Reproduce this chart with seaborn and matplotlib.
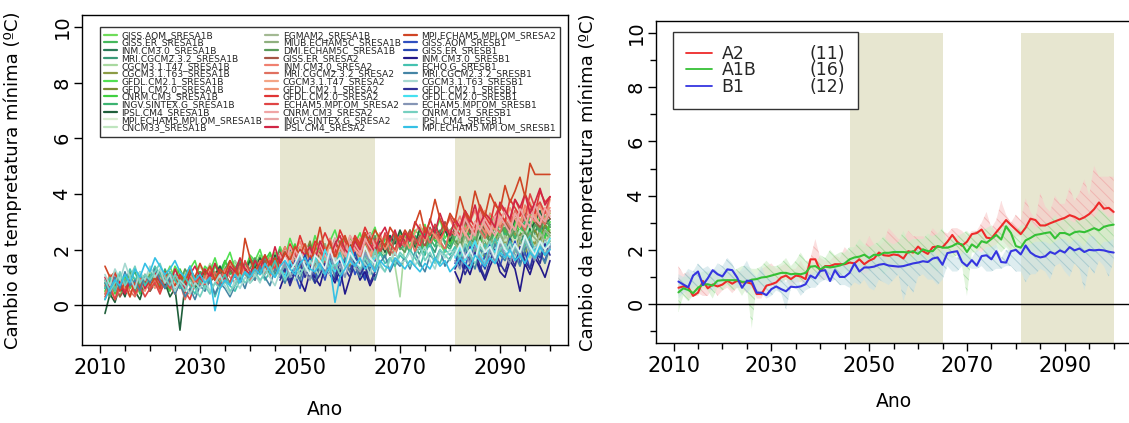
import numpy as np
import pandas as pd
import matplotlib
matplotlib.use("Agg")
import matplotlib.pyplot as plt
import seaborn as sns
from matplotlib.lines import Line2D
from matplotlib.ticker import MultipleLocator

# ---------------------------------------------------------------- data
years = list(range(2011, 2101))
slice1_years = list(range(2046, 2066))
slice2_years = list(range(2081, 2101))
shaded_periods = [(2046, 2065), (2081, 2100)]

# individual model series, values in tenths of degC
# ---- SRES A1B
a1b_giss_aom = [4, 9, 6, 3, 10, 7, 8, 12, 6, 9, 11, 7, 10, 14, 9, 8, 12, 10, 7, 11,
                13, 10, 15, 12, 9, 14, 16, 11, 13, 15, 14, 18, 12, 16, 19, 15, 13, 20, 17, 16,
                21, 17, 19, 23, 18, 16, 22, 20, 24, 19, 18, 22, 25, 20, 17, 23, 21, 19, 24, 22,
                25, 21, 23, 27, 20, 24, 26, 22, 19, 25, 27, 23, 29, 24, 26, 22, 28, 25, 30, 26,
                24, 29, 27, 31, 25, 28, 32, 26, 29, 27]
a1b_giss_er_s1 = [15, 19, 14, 17, 21, 16, 13, 18, 20, 15, 22, 17, 19, 14, 21, 18, 16, 23, 19, 17]
a1b_giss_er_s2 = [22, 26, 21, 24, 19, 25, 23, 27, 22, 20, 26, 24, 28, 23, 21, 27, 25, 22, 26, 24]
a1b_inm_s1 = [18, 14, 20, 16, 12, 19, 22, 17, 15, 21, 18, 24, 16, 20, 17, 23, 19, 15, 22, 20]
a1b_inm_s2 = [25, 21, 27, 23, 29, 24, 20, 26, 28, 23, 25, 30, 24, 27, 22, 28, 26, 31, 25, 29]
a1b_mri = [2, 7, 5, 9, 4, 8, 6, 11, 9, 5, 8, 12, 6, 9, 13, 10, 7, 11, 9, 12,
           10, 13, 9, 12, 16, 11, 14, 10, 13, 17, 15, 12, 17, 14, 11, 16, 19, 13, 18, 15,
           17, 20, 14, 18, 21, 16, 19, 15, 20, 18, 21, 17, 24, 19, 16, 22, 20, 25, 18, 23,
           20, 24, 21, 18, 26, 22, 19, 25, 23, 21, 26, 20, 24, 27, 22, 25, 21, 28, 24, 23,
           27, 24, 29, 22, 26, 30, 25, 23, 28, 26]
a1b_cgcm_t47 = [7, 4, 8, 11, 6, 9, 5, 10, 8, 12, 9, 6, 11, 8, 13, 10, 12, 7, 10, 14,
                11, 15, 12, 9, 14, 12, 16, 13, 11, 15, 13, 17, 14, 12, 18, 15, 11, 17, 14, 19,
                16, 13, 19, 17, 14, 20, 18, 15, 21, 17, 19, 23, 17, 21, 24, 20, 18, 22, 14, 3,
                23, 19, 25, 22, 20, 26, 23, 21, 27, 24, 22, 26, 24, 28, 23, 27, 25, 22, 29, 25,
                19, 16, 22, 18, 21, 17, 23, 20, 18, 22]
a1b_cgcm_t63_s1 = [13, 17, 12, 16, 19, 14, 18, 11, 15, 20, 16, 13, 19, 17, 14, 21, 15, 18, 12, 17]
a1b_cgcm_t63_s2 = [19, 23, 18, 21, 25, 20, 17, 22, 24, 19, 23, 21, 26, 20, 18, 24, 22, 27, 21, 23]
a1b_gfdl_cm21 = [8, 3, 7, 10, 5, 12, 9, 6, 11, 8, 13, 9, 12, 8, 14, 11, 9, 13, 16, 10,
                 14, 12, 17, 11, 15, 19, 13, 16, 12, 18, 16, 20, 14, 18, 15, 21, 17, 24, 19, 16,
                 22, 18, 25, 20, 17, 23, 27, 21, 19, 24, 22, 26, 20, 24, 28, 21, 25, 23, 19, 26,
                 24, 21, 27, 25, 29, 22, 26, 31, 24, 27, 29, 25, 31, 27, 24, 30, 26, 33, 28, 25,
                 31, 27, 33, 29, 26, 32, 35, 28, 31, 33]
a1b_gfdl_cm20_s1 = [16, 21, 17, 14, 20, 18, 23, 16, 19, 15, 22, 19, 17, 24, 18, 21, 16, 20, 23, 18]
a1b_gfdl_cm20_s2 = [24, 20, 26, 22, 28, 25, 21, 27, 23, 29, 26, 22, 28, 25, 30, 24, 27, 23, 29, 26]
a1b_cnrm = [5, 9, 4, 7, 11, 6, 9, 4, 8, 10, 7, 11, 8, 5, 10, 13, 9, 12, 10, 8,
            12, 10, 14, 11, 16, 12, 10, 15, 13, 17, 14, 11, 16, 19, 14, 17, 13, 18, 22, 16,
            19, 15, 21, 18, 16, 22, 19, 17, 23, 20, 17, 23, 19, 26, 21, 18, 24, 22, 20, 25,
            23, 27, 21, 24, 20, 26, 23, 25, 28, 22, 25, 29, 23, 27, 25, 22, 28, 26, 24, 29,
            27, 23, 30, 26, 28, 25, 31, 27, 24, 30]
a1b_ingv = [6, 10, 5, 8, 4, 9, 12, 7, 10, 6, 10, 7, 13, 9, 11, 6, 10, 14, 8, 11,
            9, 13, 10, 14, 11, 8, 13, 16, 12, 10, 15, 12, 18, 13, 16, 12, 15, 19, 14, 17,
            14, 18, 16, 13, 19, 22, 17, 20, 16, 21, 19, 16, 21, 18, 23, 19, 17, 22, 26, 20,
            22, 19, 25, 23, 18, 24, 21, 27, 22, 20, 24, 27, 22, 26, 23, 28, 24, 22, 26, 29,
            25, 28, 24, 27, 30, 25, 29, 26, 32, 28]
a1b_ipsl = [-3, 4, 1, 7, 3, 9, 5, 2, 8, 6, 9, 5, 8, 3, 6, -9, 7, 10, 6, 9,
            12, 8, 11, 14, 9, 13, 10, 15, 12, 16, 13, 17, 14, 11, 18, 15, 19, 14, 17, 21,
            18, 15, 20, 17, 22, 16, 19, 23, 18, 21, 24, 19, 22, 26, 20, 23, 19, 25, 22, 27,
            23, 26, 21, 28, 24, 22, 29, 25, 27, 23, 28, 25, 31, 26, 29, 24, 30, 27, 25, 32,
            29, 26, 31, 28, 33, 27, 30, 34, 29, 31]
a1b_mpi_s1 = [14, 18, 13, 16, 20, 15, 17, 12, 19, 16, 14, 20, 17, 15, 21, 16, 18, 13, 19, 17]
a1b_mpi_s2 = [21, 18, 24, 20, 23, 19, 25, 21, 18, 23, 20, 26, 22, 19, 24, 21, 25, 22, 20, 24]
a1b_cncm33_s1 = [17, 13, 19, 15, 21, 18, 14, 20, 16, 22, 19, 15, 21, 18, 16, 23, 19, 17, 22, 20]
a1b_cncm33_s2 = [23, 27, 22, 25, 21, 26, 24, 20, 25, 28, 23, 26, 22, 27, 25, 29, 24, 21, 27, 25]
a1b_egmam2_s1 = [15, 12, 18, 14, 17, 21, 16, 13, 19, 15, 18, 22, 17, 14, 20, 18, 16, 21, 17, 19]
a1b_egmam2_s2 = [20, 24, 19, 22, 26, 21, 18, 24, 22, 20, 25, 23, 19, 24, 27, 22, 20, 26, 23, 25]
a1b_miub_s1 = [12, 16, 19, 14, 17, 13, 20, 15, 18, 22, 16, 19, 14, 21, 17, 15, 20, 18, 23, 19]
a1b_miub_s2 = [22, 19, 25, 21, 23, 27, 20, 24, 22, 26, 21, 25, 28, 23, 20, 26, 24, 22, 27, 25]
a1b_dmi = [7, 3, 10, 6, 8, 12, 5, 9, 7, 11, 8, 12, 9, 6, 11, 8, 13, 10, 7, 12,
           10, 14, 11, 8, 13, 16, 12, 10, 15, 13, 17, 13, 15, 11, 16, 20, 14, 18, 15, 13,
           18, 21, 16, 19, 14, 20, 17, 22, 19, 16, 20, 23, 18, 21, 25, 19, 22, 18, 24, 21,
           19, 24, 22, 20, 25, 21, 27, 23, 20, 26, 23, 21, 27, 24, 22, 28, 25, 23, 29, 26,
           28, 24, 27, 30, 26, 23, 29, 27, 31, 28]
# ---- SRES A2
a2_giss_er = [9, 5, 8, 3, 6, 10, 4, 7, 9, 5, 8, 11, 6, 9, 7, 10, 3, 5, 9, 8,
              7, 11, 9, 12, 8, 13, 10, 15, 12, 9, 13, 11, 16, 12, 14, 17, 13, 15, 12, 16,
              14, 18, 15, 19, 16, 13, 20, 17, 15, 21, 18, 22, 17, 20, 24, 19, 22, 18, 25, 21,
              23, 27, 22, 25, 21, 28, 24, 26, 30, 25, 27, 24, 30, 26, 29, 33, 27, 25, 31, 28,
              30, 27, 33, 29, 31, 35, 30, 28, 34, 31]
a2_inm_s1 = [17, 21, 16, 19, 23, 18, 15, 22, 20, 17, 24, 19, 22, 18, 25, 21, 19, 26, 22, 20]
a2_inm_s2 = [28, 32, 27, 30, 34, 29, 26, 33, 31, 28, 35, 30, 33, 29, 36, 32, 30, 37, 33, 35]
a2_mri = [4, 8, 2, 6, 9, 5, 3, 7, 10, 6, 9, 5, 11, 7, 4, 8, 2, 6, 10, 7,
          11, 8, 12, 9, 13, 10, 8, 14, 11, 9, 12, 16, 13, 10, 15, 12, 17, 14, 11, 16,
          15, 13, 18, 16, 21, 17, 14, 19, 22, 18, 21, 17, 23, 19, 16, 22, 25, 20, 18, 23,
          21, 25, 19, 24, 27, 22, 26, 23, 20, 27, 25, 29, 26, 23, 30, 27, 24, 31, 28, 26,
          31, 28, 34, 30, 27, 33, 36, 31, 29, 34]
a2_cgcm_t47_s1 = [16, 13, 19, 15, 21, 17, 14, 20, 18, 15, 22, 19, 16, 23, 20, 17, 24, 21, 18, 22]
a2_cgcm_t47_s2 = [26, 30, 25, 29, 27, 32, 28, 25, 31, 29, 34, 30, 27, 33, 31, 36, 32, 29, 35, 33]
a2_gfdl_cm21 = [7, 11, 5, 9, 6, 3, 8, 10, 5, 9, 6, 10, 8, 12, 7, 9, 5, 11, 8, 10,
                9, 13, 10, 7, 12, 15, 11, 9, 14, 12, 10, 15, 12, 17, 13, 11, 16, 19, 14, 12,
                17, 14, 19, 15, 13, 20, 16, 22, 18, 15, 20, 24, 19, 17, 22, 26, 20, 23, 19, 25,
                24, 20, 26, 29, 23, 27, 25, 22, 28, 31, 27, 24, 32, 28, 25, 30, 34, 29, 27, 33,
                30, 35, 31, 28, 34, 37, 32, 36, 30, 38]
a2_gfdl_cm20_s1 = [19, 15, 22, 18, 25, 20, 17, 23, 21, 26, 22, 19, 27, 23, 20, 25, 22, 28, 24, 21]
a2_gfdl_cm20_s2 = [30, 27, 34, 31, 28, 36, 32, 29, 37, 33, 30, 38, 35, 32, 40, 36, 33, 41, 37, 39]
a2_echam5 = [3, 6, 2, 8, 5, 9, 4, 7, 3, 6, 8, 4, 9, 6, 11, 7, 5, 2, 8, 10,
             7, 12, 9, 6, 11, 8, 13, 10, 16, 12, 9, 14, 11, 16, 13, 18, 12, 15, 19, 14,
             17, 13, 18, 21, 15, 19, 17, 23, 18, 16, 21, 18, 24, 20, 23, 19, 26, 22, 20, 25,
             22, 26, 24, 21, 28, 25, 29, 24, 27, 32, 28, 25, 33, 29, 26, 35, 30, 27, 32, 36,
             33, 30, 38, 34, 31, 40, 35, 37, 33, 39]
a2_cnrm_s1 = [15, 18, 14, 20, 16, 13, 19, 17, 22, 18, 15, 21, 19, 16, 23, 20, 18, 24, 21, 19]
a2_cnrm_s2 = [25, 29, 26, 23, 30, 27, 31, 28, 25, 32, 29, 26, 33, 30, 28, 34, 31, 29, 35, 32]
a2_ingv_s1 = [18, 14, 21, 17, 15, 22, 19, 16, 23, 20, 17, 24, 21, 18, 25, 22, 19, 23, 26, 21]
a2_ingv_s2 = [27, 24, 31, 28, 25, 33, 29, 26, 32, 30, 34, 29, 27, 35, 31, 28, 36, 32, 30, 34]
a2_ipsl = [10, 6, 12, 8, 4, 9, 7, 11, 6, 9, 12, 8, 10, 7, 13, 9, 6, 11, 14, 10,
           13, 10, 15, 11, 9, 14, 12, 17, 13, 11, 16, 13, 18, 14, 21, 15, 19, 16, 14, 20,
           18, 21, 16, 23, 19, 17, 22, 25, 20, 18, 23, 20, 26, 22, 19, 25, 28, 23, 27, 21,
           26, 23, 30, 27, 24, 31, 26, 33, 28, 25, 31, 28, 34, 30, 36, 29, 33, 31, 28, 37,
           34, 31, 38, 35, 40, 33, 37, 42, 36, 39]
a2_mpi = [14, 10, 12, 5, 8, 3, 9, 6, 11, 7, 10, 6, 12, 9, 7, 11, 8, 13, 10, 15,
          11, 14, 9, 13, 11, 16, 13, 10, 24, 17, 12, 15, 18, 14, 17, 13, 19, 16, 21, 18,
          22, 16, 20, 28, 19, 23, 17, 22, 25, 20, 24, 21, 26, 22, 27, 24, 21, 28, 25, 23,
          27, 24, 29, 34, 26, 30, 38, 31, 27, 33, 30, 39, 33, 31, 41, 35, 32, 40, 36, 34,
          43, 37, 41, 46, 39, 51, 47, 47, 47, 47]
# ---- SRES B1
b1_giss_aom_s1 = [12, 8, 15, 11, 6, 13, 17, 10, 14, 9, 16, 12, 7, 14, 18, 11, 15, 10, 13, 16]
b1_giss_aom_s2 = [15, 19, 13, 21, 17, 12, 18, 22, 16, 14, 20, 17, 23, 15, 19, 13, 21, 18, 16, 22]
b1_giss_er_s1 = [10, 14, 9, 16, 12, 18, 13, 8, 15, 11, 17, 14, 10, 16, 12, 19, 13, 9, 15, 12]
b1_giss_er_s2 = [18, 14, 20, 16, 23, 17, 13, 19, 15, 21, 18, 24, 16, 20, 14, 22, 19, 17, 23, 20]
b1_inm_s1 = [6, 11, 8, 13, 9, 5, 12, 10, 7, 14, 11, 8, 13, 4, 10, 15, 9, 12, 7, 11]
b1_inm_s2 = [12, 8, 15, 11, 17, 13, 9, 14, 18, 12, 10, 16, 13, 5, 15, 11, 17, 14, 10, 16]
b1_echog = [6, 10, 5, 11, 8, 13, 9, 12, 7, 10, 14, 11, 8, 12, 9, 6, 10, 7, 4, 9,
            6, 10, 3, 8, 11, 7, 5, 9, 12, 8, 10, 13, 9, 12, 16, 11, 14, 10, 13, 15,
            12, 15, 18, 13, 11, 16, 14, 19, 13, 17, 15, 12, 18, 16, 13, 19, 15, 17, 14, 18,
            16, 20, 17, 14, 19, 22, 17, 15, 20, 18, 21, 17, 19, 23, 18, 16, 22, 19, 24, 20,
            18, 23, 20, 17, 22, 25, 19, 21, 18, 22]
b1_mri = [8, 4, 10, 6, 12, 7, 9, 5, 11, 8, 13, 9, 6, 10, 4, 8, 3, 6, 2, 7,
          5, 9, 4, 8, 6, 3, 7, 10, 6, 12, 9, 14, 10, 7, 13, 11, 8, 14, 12, 9,
          15, 11, 8, 14, 12, 16, 10, 13, 17, 12, 14, 10, 16, 13, 9, 15, 18, 12, 16, 14,
          17, 13, 19, 15, 12, 18, 16, 20, 14, 17, 19, 15, 21, 17, 13, 20, 18, 16, 22, 18,
          16, 21, 18, 14, 20, 23, 17, 19, 15, 21]
b1_cgcm_t63 = [11, 7, 13, 9, 15, 10, 6, 12, 9, 14, 10, 13, 8, 11, 5, 9, 7, 4, 8, 6,
               9, 5, 8, 11, 7, 4, 9, 6, 10, 8, 11, 8, 13, 10, 7, 12, 15, 11, 9, 13,
               12, 16, 13, 10, 15, 11, 17, 14, 12, 16, 13, 17, 15, 11, 18, 14, 12, 16, 19, 15,
               16, 19, 14, 18, 21, 16, 13, 19, 17, 20, 18, 21, 16, 19, 23, 17, 20, 18, 15, 21,
               19, 22, 17, 20, 24, 18, 21, 19, 23, 20]
b1_gfdl_cm21_s1 = [9, 13, 7, 12, 16, 10, 14, 8, 11, 15, 12, 9, 16, 13, 10, 17, 11, 14, 8, 12]
b1_gfdl_cm21_s2 = [13, 17, 11, 15, 19, 14, 10, 16, 20, 15, 12, 18, 14, 21, 16, 13, 19, 15, 22, 18]
b1_gfdl_cm20_s1 = [14, 10, 16, 12, 19, 14, 11, 17, 13, 20, 15, 12, 18, 14, 21, 16, 13, 19, 15, 17]
b1_gfdl_cm20_s2 = [17, 21, 16, 19, 23, 18, 15, 21, 19, 24, 20, 17, 22, 18, 25, 21, 19, 23, 20, 24]
b1_echam5_s1 = [11, 15, 10, 13, 17, 12, 9, 16, 14, 11, 18, 13, 15, 10, 17, 14, 12, 19, 15, 13]
b1_echam5_s2 = [16, 13, 19, 15, 21, 17, 14, 20, 16, 22, 18, 15, 21, 17, 24, 19, 16, 22, 18, 21]
b1_cnrm = [9, 5, 8, 12, 7, 10, 14, 8, 11, 9, 12, 15, 10, 7, 11, 8, 5, 9, 6, 3,
           7, 4, 8, 6, 9, 5, 7, 11, 8, 10, 12, 9, 11, 14, 10, 13, 9, 12, 15, 11,
           14, 12, 16, 13, 17, 12, 15, 11, 14, 18, 16, 13, 17, 14, 20, 15, 12, 17, 15, 19,
           17, 14, 18, 21, 16, 19, 15, 20, 18, 16, 20, 17, 22, 18, 15, 21, 19, 23, 17, 20,
           22, 18, 21, 19, 24, 20, 17, 22, 20, 23]
b1_ipsl_s1 = [13, 17, 12, 15, 19, 14, 11, 18, 16, 13, 20, 15, 17, 12, 19, 16, 14, 21, 17, 15]
b1_ipsl_s2 = [18, 22, 17, 20, 16, 23, 19, 21, 17, 24, 20, 18, 22, 19, 25, 21, 18, 23, 20, 22]
b1_mpi = [2, 6, 9, 7, 11, 8, 13, 10, 15, 12, 17, 14, 11, 13, 16, 12, 10, 14, 9, 11,
          8, 10, -2, 6, 9, 7, 11, 8, 12, 10, 13, 11, 15, 12, 10, 14, 16, 13, 11, 15,
          17, 13, 12, 15, 11, 14, 1, 10, 13, 16, 14, 17, 13, 15, 12, 16, 14, 13, 17, 15,
          13, 16, 14, 12, 15, 13, 17, 14, 16, 12, 14, 17, 15, 13, 18, 16, 14, 17, 15, 19,
          17, 20, 16, 18, 15, 19, 17, 21, 18, 20]

# scenario ensemble means (degC), right panel
a2_mean = [0.60, 0.65, 0.62, 0.30, 0.42, 0.85, 0.58, 0.72, 0.65, 0.72,
           0.86, 0.75, 0.86, 0.80, 0.80, 0.75, 0.37, 0.37, 0.68, 0.73,
           0.80, 0.98, 1.05, 0.92, 1.05, 1.02, 0.92, 1.65, 1.65, 1.22,
           1.40, 1.40, 1.47, 1.47, 1.47, 1.53, 1.50, 1.65, 1.47, 1.60,
           1.68, 1.90, 1.80, 1.78, 1.83, 1.80, 1.68, 1.95, 1.90, 2.12,
           1.95, 1.85, 2.10, 2.12, 2.10, 2.30, 2.55, 2.30, 2.15, 2.30,
           2.58, 2.62, 2.75, 2.45, 2.42, 2.65, 2.87, 3.10, 2.92, 2.75,
           2.58, 2.82, 3.15, 3.10, 2.90, 2.90, 2.98, 3.05, 3.12, 3.18,
           3.28, 3.22, 3.12, 3.20, 3.32, 3.50, 3.75, 3.52, 3.55, 3.40]
a1b_mean = [0.43, 0.58, 0.52, 0.40, 0.60, 0.72, 0.73, 0.68, 0.86, 0.88,
            0.88, 0.88, 0.88, 0.82, 0.82, 0.90, 0.92, 0.98, 1.00, 1.05,
            1.10, 1.15, 1.15, 1.10, 1.12, 1.10, 1.15, 1.38, 1.40, 1.28,
            1.38, 1.35, 1.38, 1.42, 1.50, 1.65, 1.72, 1.75, 1.82, 1.70,
            1.82, 1.80, 1.89, 1.89, 1.92, 1.92, 1.92, 1.90, 1.95, 1.85,
            2.02, 1.95, 1.95, 2.14, 2.08, 2.08, 2.14, 2.24, 2.20, 1.92,
            2.20, 2.08, 2.32, 2.26, 2.40, 2.55, 2.38, 2.87, 2.62, 2.14,
            2.08, 2.35, 2.44, 2.55, 2.58, 2.62, 2.65, 2.42, 2.62, 2.62,
            2.55, 2.65, 2.68, 2.65, 2.72, 2.80, 2.72, 2.85, 2.90, 2.93]
b1_mean = [0.83, 0.72, 0.62, 1.05, 1.20, 0.70, 0.95, 1.25, 1.10, 1.02,
           1.28, 1.25, 0.98, 0.60, 0.86, 0.85, 0.42, 0.42, 0.33, 0.55,
           0.65, 0.55, 0.47, 0.64, 0.62, 0.65, 0.73, 1.05, 0.95, 1.22,
           1.25, 0.85, 1.25, 1.00, 1.00, 1.15, 1.50, 1.20, 1.35, 1.35,
           1.38, 1.45, 1.48, 1.42, 1.40, 1.38, 1.40, 1.45, 1.50, 1.53,
           1.58, 1.55, 1.68, 1.72, 1.45, 1.88, 1.92, 1.95, 1.55, 1.40,
           1.62, 1.42, 1.77, 1.80, 1.65, 1.95, 1.55, 1.53, 1.95, 2.00,
           1.83, 2.16, 1.90, 1.78, 1.72, 1.76, 1.92, 1.85, 1.98, 1.90,
           2.10, 1.98, 2.05, 1.92, 2.00, 1.98, 2.00, 1.98, 1.93, 1.90]

scenario_labels = ["A2", "A1B", "B1"]
scenario_counts = ["(11)", "(16)", "(12)"]

# model registry: (legend label, series, colour); tuples = two time slices
models = [
    ("GISS.AOM_SRESA1B", a1b_giss_aom, "#6fdc5a", "A1B"),
    ("GISS.ER_SRESA1B", (a1b_giss_er_s1, a1b_giss_er_s2), "#45b85c", "A1B"),
    ("INM.CM3.0_SRESA1B", (a1b_inm_s1, a1b_inm_s2), "#2b7a58", "A1B"),
    ("MRI.CGCM2.3.2_SRESA1B", a1b_mri, "#3a9a78", "A1B"),
    ("CGCM3.1.T47_SRESA1B", a1b_cgcm_t47, "#a9d9a0", "A1B"),
    ("CGCM3.1.T63_SRESA1B", (a1b_cgcm_t63_s1, a1b_cgcm_t63_s2), "#8c9c45", "A1B"),
    ("GFDL.CM2.1_SRESA1B", a1b_gfdl_cm21, "#52e052", "A1B"),
    ("GFDL.CM2.0_SRESA1B", (a1b_gfdl_cm20_s1, a1b_gfdl_cm20_s2), "#7b8b35", "A1B"),
    ("CNRM.CM3_SRESA1B", a1b_cnrm, "#40d040", "A1B"),
    ("INGV.SINTEX.G_SRESA1B", a1b_ingv, "#3cb371", "A1B"),
    ("IPSL.CM4_SRESA1B", a1b_ipsl, "#1f5f3b", "A1B"),
    ("MPI.ECHAM5.MPI.OM_SRESA1B", (a1b_mpi_s1, a1b_mpi_s2), "#d8ecd0", "A1B"),
    ("CNCM33_SRESA1B", (a1b_cncm33_s1, a1b_cncm33_s2), "#bfe5bf", "A1B"),
    ("EGMAM2_SRESA1B", (a1b_egmam2_s1, a1b_egmam2_s2), "#a3b993", "A1B"),
    ("MIUB.ECHAM5C_SRESA1B", (a1b_miub_s1, a1b_miub_s2), "#8fb07f", "A1B"),
    ("DMI.ECHAM5C_SRESA1B", a1b_dmi, "#5a9a5a", "A1B"),
    ("GISS.ER_SRESA2", a2_giss_er, "#a55545", "A2"),
    ("INM.CM3.0_SRESA2", (a2_inm_s1, a2_inm_s2), "#f08070", "A2"),
    ("MRI.CGCM2.3.2_SRESA2", a2_mri, "#e07060", "A2"),
    ("CGCM3.1.T47_SRESA2", (a2_cgcm_t47_s1, a2_cgcm_t47_s2), "#f4a585", "A2"),
    ("GFDL.CM2.1_SRESA2", a2_gfdl_cm21, "#f09575", "A2"),
    ("GFDL.CM2.0_SRESA2", (a2_gfdl_cm20_s1, a2_gfdl_cm20_s2), "#e03535", "A2"),
    ("ECHAM5.MPI.OM_SRESA2", a2_echam5, "#e04545", "A2"),
    ("CNRM.CM3_SRESA2", (a2_cnrm_s1, a2_cnrm_s2), "#f0a5a5", "A2"),
    ("INGV.SINTEX.G_SRESA2", (a2_ingv_s1, a2_ingv_s2), "#e8a5a5", "A2"),
    ("IPSL.CM4_SRESA2", a2_ipsl, "#d02545", "A2"),
    ("MPI.ECHAM5.MPI.OM_SRESA2", a2_mpi, "#d04525", "A2"),
    ("GISS.AOM_SRESB1", (b1_giss_aom_s1, b1_giss_aom_s2), "#3050c0", "B1"),
    ("GISS.ER_SRESB1", (b1_giss_er_s1, b1_giss_er_s2), "#2545b0", "B1"),
    ("INM.CM3.0_SRESB1", (b1_inm_s1, b1_inm_s2), "#22198a", "B1"),
    ("ECHO.G_SRESB1", b1_echog, "#45c2b0", "B1"),
    ("MRI.CGCM2.3.2_SRESB1", b1_mri, "#4585a5", "B1"),
    ("CGCM3.1.T63_SRESB1", b1_cgcm_t63, "#a5d8d0", "B1"),
    ("GFDL.CM2.1_SRESB1", (b1_gfdl_cm21_s1, b1_gfdl_cm21_s2), "#303095", "B1"),
    ("GFDL.CM2.0_SRESB1", (b1_gfdl_cm20_s1, b1_gfdl_cm20_s2), "#45e0f0", "B1"),
    ("ECHAM5.MPI.OM_SRESB1", (b1_echam5_s1, b1_echam5_s2), "#8595b5", "B1"),
    ("CNRM.CM3_SRESB1", b1_cnrm, "#75d0c0", "B1"),
    ("IPSL.CM4_SRESB1", (b1_ipsl_s1, b1_ipsl_s2), "#e0f0f0", "B1"),
    ("MPI.ECHAM5.MPI.OM_SRESB1", b1_mpi, "#35c0e5", "B1"),
]

# ---------------------------------------------------------------- tables
rows = []
for name, vals, col, scen in models:
    segs = [(slice1_years, vals[0]), (slice2_years, vals[1])] if isinstance(vals, tuple) \
        else [(years, vals)]
    for k, (yy, vv) in enumerate(segs):
        for y, v in zip(yy, vv):
            rows.append((name, f"{name}#{k}", y, v / 10.0, scen))
df = pd.DataFrame(rows, columns=["model", "segment", "year", "value", "scenario"])
palette = {name: col for name, vals, col, scen in models}
order = [m[0] for m in models]

wide = df.pivot_table(index="year", columns="model", values="value").reindex(years)
env = {}
for scen in scenario_labels:
    cols = [m[0] for m in models if m[3] == scen]
    arr = wide[cols].to_numpy()
    env[scen] = (np.nanmin(arr, axis=1), np.nanmax(arr, axis=1))

mean_df = pd.DataFrame({
    "year": years * 3,
    "value": a2_mean + a1b_mean + b1_mean,
    "scenario": ["A2"] * 90 + ["A1B"] * 90 + ["B1"] * 90,
})
mean_colors = {"A2": "#ee2a2a", "A1B": "#35c035", "B1": "#3535e0"}
env_face = {"A2": "#f9caca", "A1B": "#cdeec6", "B1": "#c8e2e6"}
env_hatch = {"A2": "#eea0a0", "A1B": "#8fd68f", "B1": "#90bcc6"}

# ---------------------------------------------------------------- style
sns.set_theme(style="ticks")
plt.rcParams["font.family"] = ["DejaVu Sans"]
plt.rcParams["hatch.linewidth"] = 0.7

fig = plt.figure(figsize=(11.29, 4.23), dpi=100)
ax1 = fig.add_axes([0.0726, 0.184, 0.4305, 0.781])
ax2 = fig.add_axes([0.581, 0.189, 0.421, 0.761])

XLIM = (2006.4, 2103.6)
YLIM = (-1.44, 10.44)
SHADE = "#e7e6d0"
ylabel = "Cambio da tempretatura mínima (ºC)"

for ax in (ax1, ax2):
    ax.set_xlim(*XLIM)
    ax.set_ylim(*YLIM)
    for a, b in shaded_periods:
        ax.fill_between([a, b], [YLIM[0], YLIM[0]], [10, 10], color=SHADE, lw=0, zorder=0)

# left panel: individual models
sns.lineplot(data=df, x="year", y="value", hue="model", units="segment",
             estimator=None, palette=palette, hue_order=order, linewidth=1.2,
             legend=False, ax=ax1, zorder=2)
ax1.axhline(0, color="black", lw=1.0, zorder=3)

handles = [Line2D([], [], color=palette[n], lw=1.6) for n in order]
leg1 = ax1.legend(handles, order, ncol=3, loc="upper left",
                  bbox_to_anchor=(0.037, 0.63, 0.947, 0.334), mode="expand",
                  borderaxespad=0.0,
                  fontsize=6.6, labelspacing=-0.14, handlelength=1.4,
                  handletextpad=0.5, borderpad=0.45, columnspacing=0.5,
                  frameon=True, fancybox=False, framealpha=1, edgecolor="#333333")
leg1.get_frame().set_linewidth(1.0)
leg1.set_zorder(5)

# right panel: ensemble means with envelopes
for scen in scenario_labels:
    lo, hi = env[scen]
    ax2.fill_between(years, lo, hi, facecolor=env_face[scen], edgecolor=env_hatch[scen],
                     hatch="\\\\\\", lw=0, alpha=0.6, zorder=1)
ax2.axhline(0, color="black", lw=1.0, zorder=2)
sns.lineplot(data=mean_df, x="year", y="value", hue="scenario", palette=mean_colors,
             hue_order=scenario_labels, linewidth=1.5, legend=False, ax=ax2, zorder=3)

h2 = [Line2D([], [], color=mean_colors[s], lw=1.3) for s in scenario_labels]
blank = [Line2D([], [], color="none") for _ in scenario_labels]
leg2 = ax2.legend(h2 + blank, scenario_labels + scenario_counts, ncol=2, loc="upper left",
                  bbox_to_anchor=(0.036, 0.72, 0.39, 0.246), mode="expand",
                  borderaxespad=0.0,
                  fontsize=12.5, labelspacing=-0.1, handlelength=1.5, handletextpad=0.55,
                  borderpad=0.75, columnspacing=0.2, frameon=True, fancybox=False,
                  framealpha=1, edgecolor="#333333")
leg2.get_frame().set_linewidth(1.0)

# axes cosmetics
for ax in (ax1, ax2):
    ax.set_xticks([2010, 2030, 2050, 2070, 2090])
    ax.xaxis.set_minor_locator(MultipleLocator(5))
    ax.set_yticks([0, 2, 4, 6, 8, 10])
    ax.tick_params(axis="both", which="major", direction="out", length=5.5, width=1,
                   color="black", labelcolor="black")
    ax.tick_params(axis="both", which="minor", direction="out", length=4, width=1,
                   color="black")
    ax.tick_params(axis="x", labelsize=15, pad=4)
    ax.tick_params(axis="y", labelsize=14, labelrotation=90, pad=2)
    for lab in ax.get_yticklabels():
        lab.set_va("center")
    for sp in ax.spines.values():
        sp.set_visible(True)
        sp.set_color("black")
        sp.set_linewidth(1.0)
    ax.set_xlabel("Ano", fontsize=13.5, color="black")
    ax.set_ylabel(ylabel, fontsize=13, color="black")
    ax.yaxis.set_label_coords(-0.123, 0.5)
    ax.grid(False)

ax1.xaxis.set_label_coords(0.5, -0.167)
ax2.xaxis.set_label_coords(0.5, -0.152)
ax2.yaxis.set_minor_locator(MultipleLocator(1))

fig.savefig("out.png", dpi=100)
